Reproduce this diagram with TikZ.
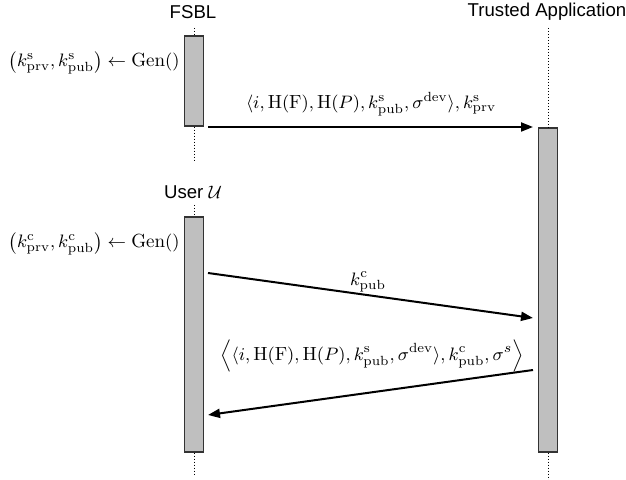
\documentclass[tikz,border=0pt]{standalone}
\usepackage{amsmath}
\usepackage{fontspec}
\setsansfont{Liberation Sans}
\usetikzlibrary{arrows.meta,positioning}

\newcommand{\keyof}[2]{k^{\mathrm{#1}}_{\mathrm{#2}}}

\begin{document}
\begin{tikzpicture}[x=0.5pt,y=-0.5pt,
  actor/.style={font=\sffamily\fontsize{9.3}{11}\selectfont, inner sep=1pt},
  actbox/.style={draw=black!80, fill=black!25, line width=0.6pt, minimum width=9.5pt, inner sep=0pt},
  lifeline/.style={densely dotted, line width=0.5pt},
  msg/.style={-{Triangle[length=6pt,width=4.5pt]}, line width=1pt},
  msglabel/.style={font=\fontsize{9.5}{11}\selectfont, inner sep=1pt}]

  \useasboundingbox (0,0) rectangle (626,480);

  % Actors
  \node[actor] (fsbl) at (193,12) {FSBL};
  \node[actor] (ta) at (547,12) {Trusted Application};
  \node[actor] (user) at (193,192) {User $\mathcal{U}$};

  % Activation boxes
  \node[actbox, minimum height=45pt] (fsblbox) at (194,81) {};
  \node[actbox, minimum height=162pt] (tabox) at (548,290) {};
  \node[actbox, minimum height=117.5pt] (userbox) at (194,334.5) {};

  % Lifelines
  \coordinate (fsblend) at (194,162);
  \coordinate (taend) at (548,480);
  \coordinate (userend) at (194,476);
  \draw[lifeline] (fsblbox.north |- 0,28) -- (fsblbox.north);
  \draw[lifeline] (fsblbox.south) -- (fsblend);
  \draw[lifeline] (tabox.north |- 0,28) -- (tabox.north);
  \draw[lifeline] (tabox.south) -- (taend);
  \draw[lifeline] (userbox.north |- 0,205) -- (userbox.north);
  \draw[lifeline] (userbox.south) -- (userend);

  % Key generation
  \node[msglabel, anchor=east] (gens) at (182,63)
    {$\bigl(\keyof{s}{prv}, \keyof{s}{pub}\bigr) \leftarrow \mathrm{Gen}()$};
  \node[msglabel, anchor=east] (genc) at (182,244)
    {$\bigl(\keyof{c}{prv}, \keyof{c}{pub}\bigr) \leftarrow \mathrm{Gen}()$};

  % Messages
  \coordinate (m1s) at (208,127);
  \coordinate (m1e) at (533,127);
  \coordinate (m2s) at (208,273);
  \coordinate (m2e) at (533,318);
  \coordinate (m3s) at (533,370);
  \coordinate (m3e) at (208,415);

  \draw[msg] (m1s) -- (m1e);
  \node[msglabel] (m1lbl) at (371,104)
    {$\langle i, \mathrm{H}(\mathrm{F}), \mathrm{H}(P), \keyof{s}{pub}, \sigma^{\mathrm{dev}}\rangle, \keyof{s}{prv}$};

  \draw[msg] (m2s) -- (m2e);
  \node[msglabel] (m2lbl) at (368,282) {$\keyof{c}{pub}$};

  \draw[msg] (m3s) -- (m3e);
  \node[msglabel] (m3lbl) at (372,356)
    {$\Bigl\langle \langle i, \mathrm{H}(\mathrm{F}), \mathrm{H}(P), \keyof{s}{pub}, \sigma^{\mathrm{dev}}\rangle, \keyof{c}{pub}, \sigma^{s} \Bigr\rangle$};

\end{tikzpicture}
\end{document}
